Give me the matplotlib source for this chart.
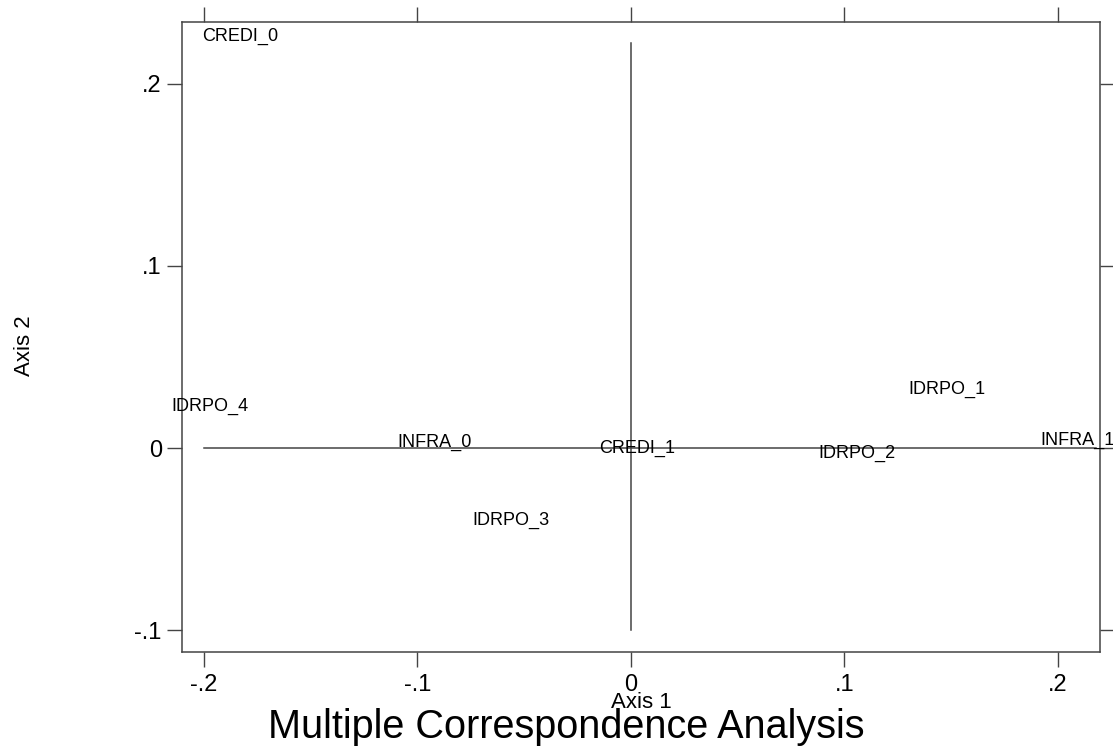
import matplotlib
matplotlib.use("Agg")
import matplotlib.pyplot as plt

plt.rcParams['font.family'] = ['Liberation Sans', 'DejaVu Sans']

# category coordinates (axis 1, axis 2)
labels = ["CREDI_0", "CREDI_1", "INFRA_0", "INFRA_1",
          "IDRPO_1", "IDRPO_2", "IDRPO_3", "IDRPO_4"]
dim1 = [-0.183, 0.003, -0.092, 0.209, 0.148, 0.106, -0.056, -0.197]
dim2 = [0.226, 0.000, 0.003, 0.004, 0.032, -0.003, -0.040, 0.023]

xticks = [-0.2, -0.1, 0, 0.1, 0.2]
xticklabels = ["-.2", "-.1", "0", ".1", ".2"]
yticks = [-0.1, 0, 0.1, 0.2]
yticklabels = ["-.1", "0", ".1", ".2"]

W, H = 1113, 754
fig = plt.figure(figsize=(W / 100, H / 100), dpi=100)
ax = fig.add_axes([182 / W, (H - 652) / H, 918 / W, 630 / H])

ax.set_xlim(-0.2103, 0.2197)
ax.set_ylim(-0.112, 0.234)

lc = "#444444"
# reference lines through the origin
ax.plot([-0.2, 0.218], [0, 0], color=lc, lw=1.1)
ax.plot([0, 0], [-0.1, 0.2225], color=lc, lw=1.1)

for lab, x, y in zip(labels, dim1, dim2):
    ax.text(x, y, lab, fontsize=13, ha="center", va="center", clip_on=False)

ax.set_xticks(xticks)
ax.set_xticklabels(xticklabels, fontsize=17)
ax.set_yticks(yticks)
ax.set_yticklabels(yticklabels, fontsize=17)
ax.tick_params(axis="x", pad=5)
ax.tick_params(direction="out", length=11, width=1.0, color=lc,
               top=True, right=True, labeltop=False, labelright=False)
for s in ax.spines.values():
    s.set_color(lc)
    s.set_linewidth(1.1)

fig.text(641 / W, 1 - 703 / H, "Axis 1", fontsize=16, ha="center", va="center")
fig.text(24 / W, 1 - 346 / H, "Axis 2", fontsize=16, ha="center", va="center",
         rotation=90)
fig.text(566 / W, 1 - 727 / H, "Multiple Correspondence Analysis",
         fontsize=28.5, ha="center", va="center")

fig.savefig("out.png", dpi=100)
